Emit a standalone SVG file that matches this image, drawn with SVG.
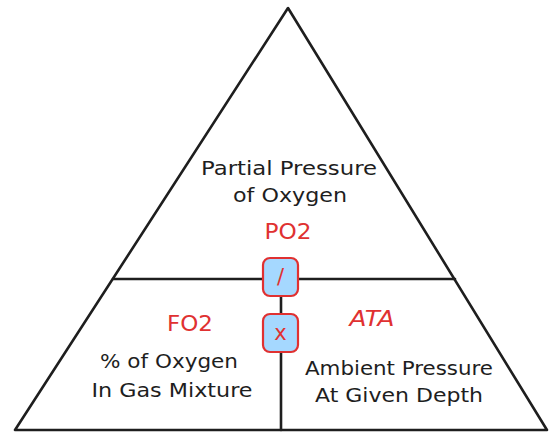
<svg xmlns="http://www.w3.org/2000/svg" width="549" height="432" viewBox="0 0 549 432">
<style>
.ln{stroke:#1e1e1e;stroke-width:2.6;fill:none;stroke-linecap:round;stroke-linejoin:round}
.t{font-family:"DejaVu Sans","Liberation Sans",sans-serif;font-size:20px;fill:#1e1e1e;text-anchor:middle}
.r{font-family:"DejaVu Sans","Liberation Sans",sans-serif;font-size:21px;fill:#e03131;text-anchor:middle}
.op{fill:#a5d8ff;stroke:#e03131;stroke-width:2.2}
.sym{font-family:"DejaVu Sans","Liberation Sans",sans-serif;font-size:21px;fill:#e03131;text-anchor:middle}
</style>
<rect width="549" height="432" fill="#ffffff"/>
<g id="connectors">
<path class="ln" d="M288 8 L15 430 L547 430 Z"/>
<path class="ln" d="M113 279 L455 279"/>
<path class="ln" d="M281 279 L281 430"/>
</g>
<g id="top">
<text class="t" x="289" y="175" textLength="176" lengthAdjust="spacingAndGlyphs">Partial Pressure</text>
<text class="t" x="290" y="202" textLength="114" lengthAdjust="spacingAndGlyphs">of Oxygen</text>
<text class="r" x="288" y="239" textLength="47" lengthAdjust="spacingAndGlyphs">PO2</text>
</g>
<g id="left">
<text class="r" x="190" y="331" textLength="46" lengthAdjust="spacingAndGlyphs">FO2</text>
<text class="t" x="169" y="368" textLength="138" lengthAdjust="spacingAndGlyphs">% of Oxygen</text>
<text class="t" x="172" y="397" textLength="161" lengthAdjust="spacingAndGlyphs">In Gas Mixture</text>
</g>
<g id="right">
<text class="r" x="372" y="326" font-style="italic" textLength="45" lengthAdjust="spacingAndGlyphs">ATA</text>
<text class="t" x="399" y="375" textLength="188" lengthAdjust="spacingAndGlyphs">Ambient Pressure</text>
<text class="t" x="399" y="402" textLength="168" lengthAdjust="spacingAndGlyphs">At Given Depth</text>
</g>
<g id="divide">
<rect class="op" x="263" y="258" width="35" height="38" rx="7"/>
<text class="sym" x="280.5" y="284">/</text>
</g>
<g id="multiply">
<rect class="op" x="263" y="314" width="35" height="38" rx="7"/>
<text class="sym" x="280.5" y="340">x</text>
</g>
</svg>
